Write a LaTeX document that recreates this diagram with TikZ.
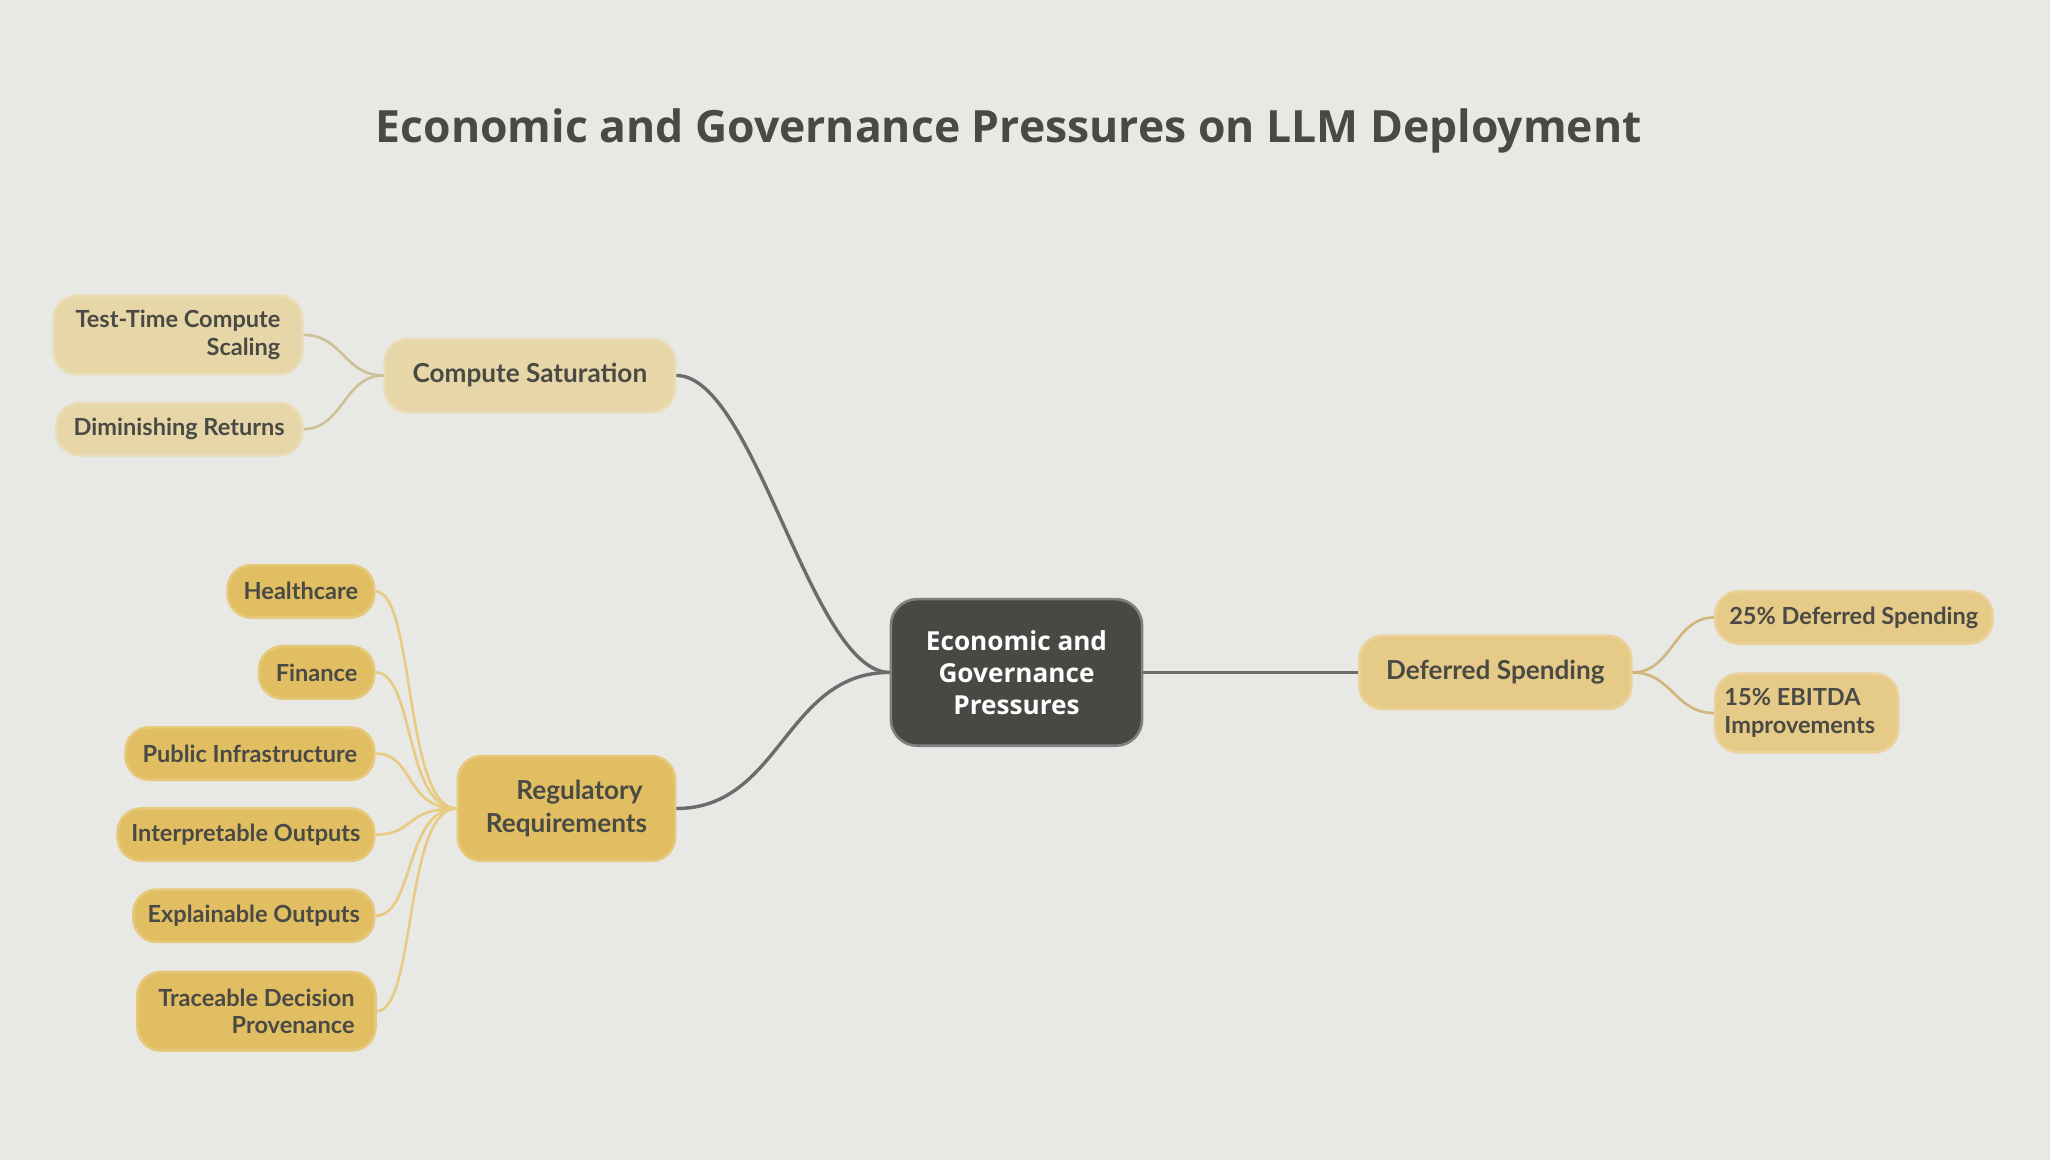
\documentclass[tikz,border=0pt]{standalone}
\usepackage{fontspec}
\setmainfont{Open Sans}
\newfontfamily\lf{Lato}
\begin{document}
\begin{tikzpicture}[x=0.5pt,y=-0.5pt,
  base/.style={rounded corners=9pt,draw=#1!85!white,line width=1pt,fill=#1,text=txt,font=\lf\bfseries\fontsize{9}{10.5}\selectfont,inner sep=0pt,anchor=center},
  main/.style={edge,draw=gray!85!black},
  edge/.style={line width=1.3pt},
  lc/.style={edge,draw=cl!90!black,line width=1pt},
  lr/.style={edge,draw=rl!80!white,line width=1pt},
  ld/.style={edge,draw=dl!90!black,line width=1pt}]
\definecolor{bg}{HTML}{E8E8E5}
\definecolor{txt}{HTML}{4A4A45}
\definecolor{cl}{HTML}{E6D6A8}
\definecolor{rl}{HTML}{E2BE63}
\definecolor{dl}{HTML}{E6CA88}
\definecolor{dk}{HTML}{484944}
\fill[bg] (0,0) rectangle (1567,887);
\useasboundingbox (0,0) rectangle (1567,887);
\node[font=\bfseries\fontsize{17}{20}\selectfont,text=txt] (title) at (771,100) {Economic and Governance Pressures on LLM Deployment};
\node[rounded corners=10pt,fill=dk,draw=gray,line width=1pt,minimum width=96pt,minimum height=56pt,text=white,align=center,font=\bfseries\fontsize{10}{12.3}\selectfont] (c) at (777,514) {Economic and\\Governance\\Pressures};
\node[base=cl,minimum width=111pt,minimum height=28pt,font=\lf\bfseries\fontsize{10}{12}\selectfont] (cs) at (405,287) {Compute Saturation};
\node[base=rl,minimum width=83pt,minimum height=40pt,align=center,font=\lf\bfseries\fontsize{10}{12.3}\selectfont] (rr) at (433,618) {\hspace*{1em}Regulatory\\Requirements};
\node[base=dl,minimum width=104pt,minimum height=28pt,font=\lf\bfseries\fontsize{10}{12}\selectfont] (ds) at (1143,514) {Deferred Spending};
\node[base=cl,minimum width=95pt,minimum height=30pt,align=right] (t1) at (136,256) {Test-Time Compute\\Scaling};
\node[base=cl,minimum width=94pt,minimum height=20pt] (t2) at (137,328) {Diminishing Returns};
\node[base=rl,minimum width=56pt,minimum height=20pt] (r1) at (230,452) {Healthcare};
\node[base=rl,minimum width=44pt,minimum height=20pt] (r2) at (242,514) {Finance};
\node[base=rl,minimum width=95pt,minimum height=20pt] (r3) at (191,576) {Public Infrastructure};
\node[base=rl,minimum width=98pt,minimum height=20pt] (r4) at (188,638) {Interpretable Outputs};
\node[base=rl,minimum width=92pt,minimum height=20pt] (r5) at (194,700) {Explainable Outputs};
\node[base=rl,minimum width=91pt,minimum height=30pt,align=right] (r6) at (196,773) {Traceable Decision\\Provenance};
\node[base=dl,minimum width=106pt,minimum height=20pt] (d1) at (1417,472) {25\% Deferred Spending};
\node[base=dl,minimum width=70pt,minimum height=30pt,align=left] (d2) at (1381,545) {15\% EBITDA\hspace*{1.2em}\\Improvements};
\draw[main] (c.west) .. controls +(-60,0) and +(60,0) .. (cs.east);
\draw[main] (c.west) .. controls +(-80,0) and +(80,0) .. (rr.east);
\draw[main] (c.east) -- (ds.west);
\foreach \n in {t1,t2} \draw[lc] (cs.west) .. controls +(-30,0) and +(30,0) .. (\n.east);
\foreach \n in {r1,r2,r3,r4,r5,r6} \draw[lr] (rr.west) .. controls +(-40,0) and +(30,0) .. (\n.east);
\foreach \n in {d1,d2} \draw[ld] (ds.east) .. controls +(30,0) and +(-30,0) .. (\n.west);
\end{tikzpicture}
\end{document}
